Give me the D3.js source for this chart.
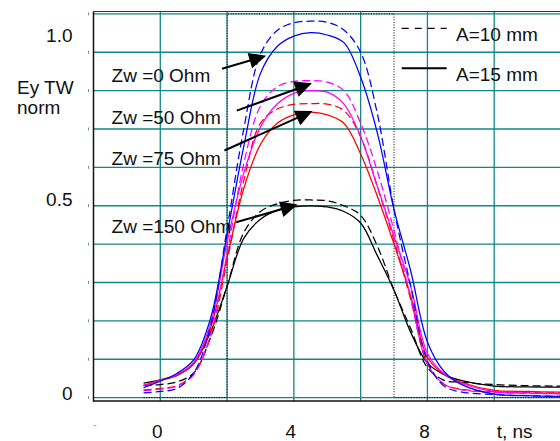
<!DOCTYPE html>
<html><head><meta charset="utf-8">
<script src="https://cdn.jsdelivr.net/npm/d3@7"></script>
<style>
body{margin:0;background:#fff}
svg{display:block}
text{font-family:"Liberation Sans",Arial,sans-serif;fill:#111}
</style>
</head><body>
<svg id="chart" width="560" height="441"></svg>
<script>
// ---------- data ----------
const timeNs = [-0.5, 0, 0.5, 1, 1.5, 2, 2.5, 3, 3.5, 4, 4.5, 5, 5.5, 6, 6.5, 7, 7.5, 8, 8.5, 9, 10, 11, 12];
// Zw = 0 Ohm
const blueA10 = [0.012, 0.016, 0.024, 0.064, 0.185, 0.44, 0.7, 0.895, 0.957, 0.977, 0.981, 0.978, 0.958, 0.9, 0.74, 0.49, 0.29, 0.095, 0.03, 0.015, 0.008, 0.005, 0.003];
const blueA15 = [0.026, 0.043, 0.063, 0.098, 0.205, 0.425, 0.655, 0.845, 0.915, 0.942, 0.951, 0.945, 0.925, 0.835, 0.69, 0.49, 0.33, 0.145, 0.068, 0.035, 0.009, 0.005, 0.003];
// Zw = 50 Ohm
const magentaA10 = [0.018, 0.022, 0.03, 0.06, 0.162, 0.375, 0.61, 0.76, 0.81, 0.824, 0.826, 0.822, 0.80, 0.715, 0.59, 0.435, 0.26, 0.088, 0.035, 0.021, 0.013, 0.011, 0.01];
const magentaA15 = [0.031, 0.045, 0.06, 0.092, 0.192, 0.405, 0.585, 0.705, 0.765, 0.793, 0.80, 0.796, 0.765, 0.68, 0.55, 0.42, 0.29, 0.115, 0.062, 0.038, 0.016, 0.012, 0.01];
// Zw = 75 Ohm
const redA10 = [0.02, 0.024, 0.031, 0.062, 0.158, 0.355, 0.565, 0.715, 0.752, 0.764, 0.766, 0.765, 0.748, 0.68, 0.55, 0.41, 0.255, 0.088, 0.035, 0.022, 0.015, 0.013, 0.012];
const redA15 = [0.032, 0.046, 0.058, 0.088, 0.18, 0.365, 0.545, 0.66, 0.715, 0.737, 0.744, 0.737, 0.715, 0.635, 0.525, 0.40, 0.265, 0.105, 0.06, 0.04, 0.019, 0.016, 0.014];
// Zw = 150 Ohm
const blackA10 = [0.032, 0.034, 0.041, 0.064, 0.155, 0.29, 0.43, 0.485, 0.505, 0.514, 0.515, 0.513, 0.50, 0.475, 0.395, 0.28, 0.18, 0.078, 0.045, 0.04, 0.034, 0.031, 0.03];
const blackA15 = [0.038, 0.046, 0.058, 0.088, 0.17, 0.29, 0.415, 0.465, 0.488, 0.497, 0.50, 0.497, 0.485, 0.455, 0.37, 0.28, 0.17, 0.09, 0.06, 0.045, 0.03, 0.028, 0.027];

// incident rectangular pulse (dotted)
const pulseT = [-0.5, 2, 2, 7, 7, 12];
const pulseV = [0, 0, 1, 1, 0, 0];

// ticks / labels
const xTickValues = [0, 4, 8];
const yTickValues = [0, 0.5, 1.0];
const xGridValues = [0, 2, 4, 6, 8, 10, 12];
const legendLabels = ["A=10 mm", "A=15 mm"];
const zwLabels = ["Zw =0 Ohm", "Zw =50 Ohm", "Zw =75 Ohm", "Zw =150 Ohm"];
// annotation anchors in data units (t, value)
const zwLabelPos = [[-1.46, 0.822], [-1.46, 0.714], [-1.46, 0.607], [-1.46, 0.43]];
const arrowTail = [[1.85, 0.857], [2.29, 0.748], [1.92, 0.644], [2.27, 0.457]];
const arrowTip  = [[3.17, 0.891], [4.54, 0.819], [4.56, 0.747], [4.11, 0.503]];

// ---------- layout ----------
const W = 560, H = 441;
const plotLeft = 93.5, plotRight = 561, plotTop = 11.5, plotBottom = 401;
const FONT = 19;

const svg = d3.select("#chart");
const x = d3.scaleLinear().domain([-2, 12]).range([plotLeft, plotRight]);
const y = d3.scaleLinear().domain([0, 1]).range([397.6, 13.9]);

const gridColor = "#118787";

// grid
const grid = svg.append("g");
grid.selectAll("line.v").data(xGridValues).join("line")
  .attr("x1", d => x(d)).attr("x2", d => x(d))
  .attr("y1", plotTop).attr("y2", plotBottom)
  .attr("stroke", gridColor).attr("stroke-width", 1.3);
grid.selectAll("line.h").data(y.ticks(10)).join("line")
  .attr("x1", plotLeft).attr("x2", W)
  .attr("y1", d => y(d)).attr("y2", d => y(d))
  .attr("stroke", gridColor).attr("stroke-width", 1.3);

// minor tick marks left of the axis
svg.append("g").selectAll("line").data(y.ticks(10)).join("line")
  .attr("x1", 88.5).attr("x2", 88.5)
  .attr("y1", d => y(d) - 1.5).attr("y2", d => y(d) + 1.5)
  .attr("stroke", "#888").attr("stroke-width", 1);

// dotted pulse
const pulse = pulseT.map((t, i) => [t, pulseV[i]]);
svg.append("path").datum(pulse)
  .attr("d", d3.line().x(d => x(d[0])).y(d => y(d[1])))
  .attr("fill", "none").attr("stroke", "#000").attr("stroke-width", 1)
  .attr("stroke-dasharray", "1,1.6");

// curves
const series = [
  {v: blackA15, c: "#000000", dash: false},
  {v: blackA10, c: "#000000", dash: true},
  {v: redA15, c: "#ff0000", dash: false},
  {v: redA10, c: "#ff0000", dash: true},
  {v: magentaA15, c: "#ff00ff", dash: false},
  {v: magentaA10, c: "#ff00ff", dash: true},
  {v: blueA15, c: "#0000ff", dash: false},
  {v: blueA10, c: "#0000ff", dash: true},
];
const line = d3.line().x(d => x(d[0])).y(d => y(d[1])).curve(d3.curveCatmullRom.alpha(0.5));
svg.append("g").selectAll("path").data(series).join("path")
  .attr("d", s => line(timeNs.map((t, i) => [t, s.v[i]])))
  .attr("fill", "none").attr("stroke", s => s.c).attr("stroke-width", 1.25)
  .attr("stroke-dasharray", s => s.dash ? "8,4" : null);

// arrows
const arrows = svg.append("g");
arrowTail.forEach((tl, i) => {
  const x0 = x(tl[0]), y0 = y(tl[1]);
  const x1 = x(arrowTip[i][0]), y1 = y(arrowTip[i][1]);
  const dx = x1 - x0, dy = y1 - y0, len = Math.hypot(dx, dy);
  const ux = dx / len, uy = dy / len;
  const hl = 17, hw = 8;
  const bx = x1 - ux * hl, by = y1 - uy * hl;
  arrows.append("line").attr("x1", x0).attr("y1", y0).attr("x2", bx + ux * 2).attr("y2", by + uy * 2)
    .attr("stroke", "#000").attr("stroke-width", 2);
  arrows.append("polygon")
    .attr("points", [[x1, y1], [bx - uy * hw, by + ux * hw], [bx + uy * hw, by - ux * hw]].map(p => p.join(",")).join(" "))
    .attr("fill", "#000");
});

// annotation labels
svg.append("g").selectAll("text").data(zwLabels).join("text")
  .attr("x", (d, i) => x(zwLabelPos[i][0])).attr("y", (d, i) => y(zwLabelPos[i][1]))
  .attr("font-size", FONT).text(d => d);

// legend
const legY = [28.3, 68.3];
svg.append("line").attr("x1", 401.7).attr("x2", 446.7).attr("y1", legY[0]).attr("y2", legY[0])
  .attr("stroke", "#000").attr("stroke-width", 1.3).attr("stroke-dasharray", "7,6");
svg.append("line").attr("x1", 401.7).attr("x2", 446.7).attr("y1", legY[1]).attr("y2", legY[1])
  .attr("stroke", "#000").attr("stroke-width", 2);
svg.append("g").selectAll("text").data(legendLabels).join("text")
  .attr("x", 456).attr("y", (d, i) => legY[i] + 12.5)
  .attr("font-size", FONT).text(d => d);

// axes
const yLabelShift = {0: 1.5, 0.5: -0.4, 1: 27.8};
const yAxisG = svg.append("g").attr("transform", `translate(${plotLeft},0)`)
  .call(d3.axisLeft(y).tickValues(yTickValues).tickSize(0).tickPadding(21)
    .tickFormat(d => d === 0 ? "0" : d3.format(".1f")(d)));
yAxisG.select(".domain").remove();
yAxisG.attr("font-family", null).attr("font-size", FONT);
yAxisG.selectAll("text").attr("dy", null).attr("y", d => yLabelShift[d]).style("fill", "#111");

const xAxisG = svg.append("g").attr("transform", `translate(0,${plotBottom})`)
  .call(d3.axisBottom(x).tickValues(xTickValues).tickSize(0).tickPadding(0));
xAxisG.select(".domain").remove();
xAxisG.attr("font-family", null).attr("font-size", FONT);
xAxisG.selectAll("text").attr("dy", null).attr("y", 37).attr("dx", -3.5).style("fill", "#111");

// axis titles
svg.append("text").attr("x", 17).attr("y", 94.3).attr("font-size", FONT).text("Ey TW");
svg.append("text").attr("x", 17).attr("y", 113.5).attr("font-size", FONT).text("norm");
svg.append("text").attr("x", 496.7).attr("y", 438).attr("font-size", FONT).text("t, ns");
svg.append("text").attr("x", 95).attr("y", 428).attr("font-size", 9).attr("text-anchor", "middle")
  .style("fill", "#777").text("-");

// frame
svg.append("line").attr("x1", plotLeft).attr("x2", W).attr("y1", plotTop).attr("y2", plotTop)
  .attr("stroke", "#333").attr("stroke-width", 1.2);
svg.append("line").attr("x1", plotLeft).attr("x2", plotLeft).attr("y1", plotTop).attr("y2", plotBottom + 0.7)
  .attr("stroke", "#111").attr("stroke-width", 1.5);
svg.append("line").attr("x1", plotLeft).attr("x2", W).attr("y1", plotBottom).attr("y2", plotBottom)
  .attr("stroke", "#111").attr("stroke-width", 1.5);
</script>
</body></html>
